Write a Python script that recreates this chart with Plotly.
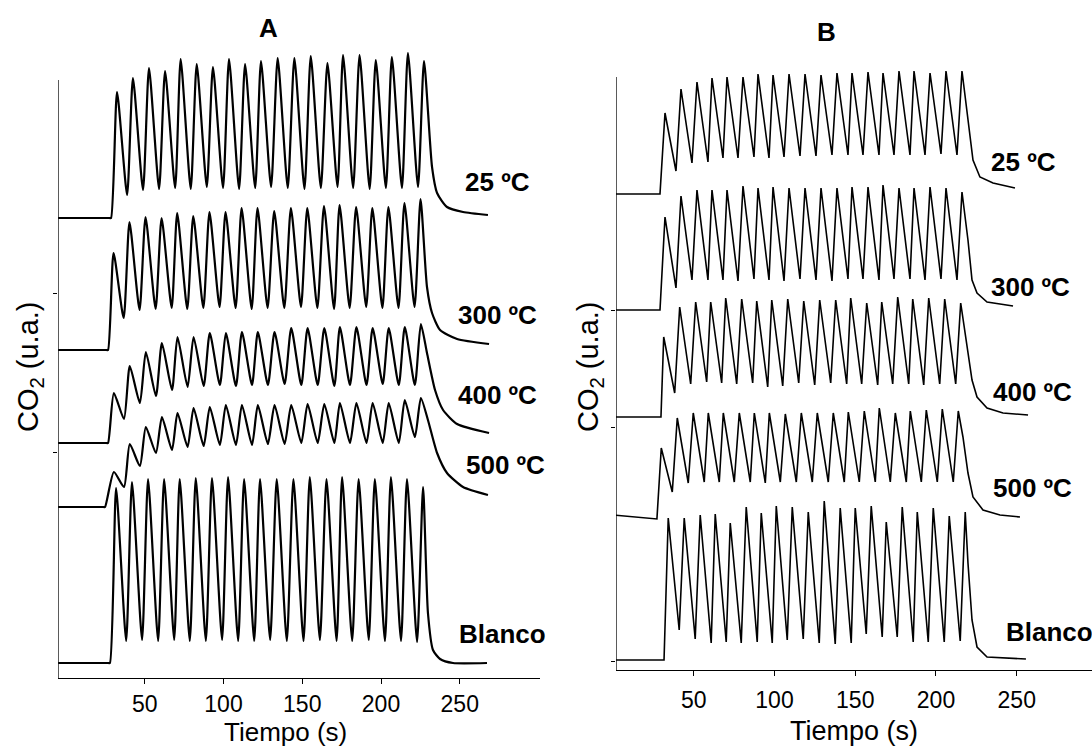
import plotly.graph_objects as go

# ---------------------------------------------------------------------------
# Pulse timing (s): maxima and minima of the CO2 pulse train
# ---------------------------------------------------------------------------
PEAK_T_A = [32.4, 42.5, 52.7, 62.9, 72.8, 83.0, 93.3, 103.5, 113.7, 123.8,
            134.4, 145.0, 155.4, 166.0, 175.9, 186.4, 196.7, 206.9, 217.1, 227.3]
TROUGH_T_A = [38.8, 48.9, 59.1, 69.3, 79.2, 89.4, 99.7, 109.9, 120.1, 130.2,
              140.8, 151.4, 161.8, 172.4, 182.3, 192.8, 203.1, 213.3, 223.5]

PEAK_T_B = [32.2, 42.1, 52.0, 61.3, 70.6, 80.5, 89.8, 99.1, 109.0, 118.9,
            128.8, 138.7, 148.0, 157.9, 167.2, 177.1, 186.4, 196.3, 206.2, 216.1]
TROUGH_T_B = [39.0, 48.9, 58.8, 68.1, 77.4, 87.3, 96.6, 105.9, 115.8, 125.7,
              135.6, 145.5, 154.8, 164.7, 174.0, 183.9, 193.2, 203.1, 213.0]

LABELS = ["25 ºC", "300 ºC", "400 ºC", "500 ºC", "Blanco"]
X_TICKS = [50, 100, 150, 200, 250]

# ---------------------------------------------------------------------------
# Panel A signals (u.a., curves stacked with an offset)
# ---------------------------------------------------------------------------
A25_BASE_T = [-5.0, 27.6, 28.6]
A25_BASE_V = [4.60, 4.60, 4.60]
A25_LAG = 0.0
A25_PEAKS = [5.86, 6.00, 6.10, 6.07, 6.19, 6.14, 6.11, 6.19, 6.14, 6.17,
             6.20, 6.20, 6.22, 6.15, 6.23, 6.23, 6.18, 6.21, 6.25, 6.17]
A25_TROUGHS = [4.83, 4.88, 4.89, 4.90, 4.89, 4.91, 4.90, 4.89, 4.90, 4.91,
               4.90, 4.89, 4.90, 4.91, 4.90, 4.89, 4.90, 4.90, 4.91]
A25_TAIL_T = [232.4, 235.6, 241.9, 252.1, 267.9]
A25_TAIL_V = [5.11, 4.85, 4.71, 4.66, 4.63]

A300_BASE_T = [-5.0, 25.7, 26.7]
A300_BASE_V = [3.28, 3.28, 3.28]
A300_LAG = -2.2
A300_PEAKS = [4.25, 4.56, 4.61, 4.60, 4.65, 4.62, 4.66, 4.66, 4.70, 4.70,
              4.67, 4.70, 4.70, 4.72, 4.73, 4.71, 4.70, 4.71, 4.75, 4.79]
A300_TROUGHS = [3.60, 3.68, 3.69, 3.70, 3.69, 3.70, 3.71, 3.70, 3.69, 3.70,
                3.70, 3.71, 3.70, 3.69, 3.70, 3.71, 3.70, 3.70, 3.71]
A300_TAIL_T = [229.2, 232.4, 237.5, 248.3, 268.6]
A300_TAIL_V = [3.91, 3.65, 3.48, 3.39, 3.34]

A400_BASE_T = [-5.0, 25.7, 26.7]
A400_BASE_V = [2.35, 2.35, 2.35]
A400_LAG = -2.0
A400_PEAKS = [2.85, 3.12, 3.26, 3.35, 3.41, 3.41, 3.45, 3.45, 3.46, 3.46,
              3.46, 3.50, 3.50, 3.50, 3.51, 3.51, 3.50, 3.50, 3.51, 3.54]
A400_TROUGHS = [2.59, 2.75, 2.82, 2.88, 2.91, 2.92, 2.93, 2.92, 2.93, 2.93,
                2.94, 2.93, 2.93, 2.92, 2.93, 2.93, 2.94, 2.93, 2.93]
A400_TAIL_T = [229.2, 234.3, 239.4, 248.3, 268.6]
A400_TAIL_V = [3.25, 2.88, 2.68, 2.54, 2.45]

A500_BASE_T = [-5.0, 23.8, 24.8]
A500_BASE_V = [1.71, 1.71, 1.71]
A500_LAG = -2.0
A500_PEAKS = [2.06, 2.34, 2.51, 2.61, 2.65, 2.70, 2.71, 2.73, 2.73, 2.73,
              2.73, 2.73, 2.74, 2.74, 2.75, 2.75, 2.75, 2.75, 2.78, 2.80]
A500_TROUGHS = [1.91, 2.12, 2.25, 2.28, 2.31, 2.32, 2.33, 2.33, 2.33, 2.34,
                2.34, 2.35, 2.35, 2.35, 2.35, 2.35, 2.35, 2.35, 2.41]
A500_TAIL_T = [229.8, 235.6, 241.9, 252.1, 267.9]
A500_TAIL_V = [2.58, 2.25, 2.05, 1.91, 1.83]

ABL_BASE_T = [-5.0, 26.9, 27.9]
ABL_BASE_V = [0.15, 0.15, 0.15]
ABL_LAG = -0.6
ABL_PEAKS = [1.90, 1.96, 1.99, 1.99, 1.99, 2.00, 2.00, 2.01, 1.99, 1.99,
             1.99, 1.99, 2.01, 1.99, 2.01, 1.99, 1.99, 2.01, 1.99, 1.91]
ABL_TROUGHS = [0.37, 0.38, 0.37, 0.38, 0.37, 0.37, 0.38, 0.37, 0.37, 0.38,
               0.37, 0.37, 0.38, 0.37, 0.37, 0.38, 0.37, 0.37, 0.36]
ABL_TAIL_T = [229.8, 233.0, 237.5, 245.7, 267.3]
ABL_TAIL_V = [0.65, 0.28, 0.19, 0.15, 0.15]

# ---------------------------------------------------------------------------
# Panel B signals
# ---------------------------------------------------------------------------
B25_BASE_T = [0.0, 29.1]
B25_BASE_V = [4.76, 4.76]
B25_LAG = 0.0
B25_PEAKS = [5.57, 5.81, 5.88, 5.92, 5.93, 5.93, 5.96, 5.95, 5.96, 5.96,
             5.95, 5.97, 5.97, 5.98, 5.97, 5.99, 5.99, 5.97, 5.99, 5.99]
B25_TROUGHS = [4.99, 5.07, 5.08, 5.12, 5.12, 5.13, 5.12, 5.13, 5.14, 5.14,
               5.15, 5.15, 5.15, 5.15, 5.15, 5.15, 5.15, 5.16, 5.15]
B25_TAIL_T = [219.8, 222.9, 227.2, 235.3, 248.9]
B25_TAIL_V = [5.53, 5.10, 4.93, 4.87, 4.82]

B300_BASE_T = [0.0, 29.1]
B300_BASE_V = [3.60, 3.60]
B300_LAG = 0.0
B300_PEAKS = [4.53, 4.74, 4.80, 4.80, 4.80, 4.84, 4.82, 4.83, 4.82, 4.82,
              4.82, 4.82, 4.83, 4.83, 4.85, 4.82, 4.82, 4.83, 4.82, 4.78]
B300_TROUGHS = [3.82, 3.90, 3.90, 3.90, 3.89, 3.91, 3.90, 3.89, 3.91, 3.90,
                3.89, 3.91, 3.91, 3.90, 3.91, 3.91, 3.90, 3.91, 3.90]
B300_TAIL_T = [219.8, 222.3, 225.4, 231.6, 247.7]
B300_TAIL_V = [4.30, 3.90, 3.77, 3.68, 3.64]

B400_BASE_T = [0.0, 29.7]
B400_BASE_V = [2.53, 2.53]
B400_LAG = -0.8
B400_PEAKS = [3.33, 3.63, 3.68, 3.68, 3.72, 3.71, 3.69, 3.70, 3.71, 3.69,
              3.70, 3.70, 3.72, 3.67, 3.68, 3.73, 3.71, 3.72, 3.71, 3.67]
B400_TROUGHS = [2.77, 2.86, 2.88, 2.87, 2.86, 2.87, 2.83, 2.84, 2.87, 2.85,
                2.87, 2.86, 2.86, 2.85, 2.86, 2.86, 2.85, 2.86, 2.86]
B400_TAIL_T = [219.2, 222.3, 225.4, 231.6, 241.5, 257.0]
B400_TAIL_V = [3.23, 2.90, 2.73, 2.62, 2.57, 2.55]

B500_BASE_T = [0.0, 27.2]
B500_BASE_V = [1.55, 1.51]
B500_LAG = -2.3
B500_PEAKS = [2.22, 2.52, 2.57, 2.57, 2.57, 2.57, 2.57, 2.57, 2.56, 2.57,
              2.57, 2.57, 2.58, 2.59, 2.62, 2.57, 2.59, 2.60, 2.61, 2.59]
B500_TROUGHS = [1.78, 1.87, 1.88, 1.88, 1.88, 1.88, 1.87, 1.88, 1.88, 1.88,
                1.88, 1.88, 1.88, 1.88, 1.88, 1.88, 1.88, 1.88, 1.88]
B500_TAIL_T = [216.7, 219.8, 222.9, 229.1, 239.6, 252.0]
B500_TAIL_V = [2.33, 1.97, 1.73, 1.60, 1.55, 1.53]

BBL_BASE_T = [0.0, 31.6]
BBL_BASE_V = [0.10, 0.10]
BBL_LAG = 2.0
BBL_PEAKS = [1.52, 1.52, 1.55, 1.56, 1.47, 1.63, 1.57, 1.64, 1.63, 1.58,
             1.69, 1.62, 1.62, 1.64, 1.48, 1.63, 1.58, 1.62, 1.54, 1.58]
BBL_TROUGHS = [0.40, 0.31, 0.27, 0.28, 0.27, 0.28, 0.27, 0.30, 0.31, 0.27,
               0.26, 0.27, 0.36, 0.33, 0.33, 0.28, 0.28, 0.28, 0.29]
BBL_TAIL_T = [219.8, 222.3, 225.4, 231.6, 255.7]
BBL_TAIL_V = [1.07, 0.50, 0.23, 0.13, 0.11]

# ---------------------------------------------------------------------------
# Figure geometry (pixels of a 1092 x 749 canvas)
# ---------------------------------------------------------------------------
W, H = 1092, 749
FONT = "Liberation Sans, Arial, sans-serif"


def px(x):
    return x / W


def py(y):
    return 1 - y / H


def pulse_train(base_t, base_v, lag, peak_t, trough_t, peaks, troughs, tail_t, tail_v):
    """Chain baseline, alternating maxima/minima and the final decay."""
    xs, ys = list(base_t), list(base_v)
    for i, pv in enumerate(peaks):
        xs.append(peak_t[i] + lag)
        ys.append(pv)
        if i < len(troughs):
            xs.append(trough_t[i] + lag)
            ys.append(troughs[i])
    xs += list(tail_t)
    ys += list(tail_v)
    return xs, ys


fig = go.Figure()

panel_a = [
    (A25_BASE_T, A25_BASE_V, A25_LAG, A25_PEAKS, A25_TROUGHS, A25_TAIL_T, A25_TAIL_V),
    (A300_BASE_T, A300_BASE_V, A300_LAG, A300_PEAKS, A300_TROUGHS, A300_TAIL_T, A300_TAIL_V),
    (A400_BASE_T, A400_BASE_V, A400_LAG, A400_PEAKS, A400_TROUGHS, A400_TAIL_T, A400_TAIL_V),
    (A500_BASE_T, A500_BASE_V, A500_LAG, A500_PEAKS, A500_TROUGHS, A500_TAIL_T, A500_TAIL_V),
    (ABL_BASE_T, ABL_BASE_V, ABL_LAG, ABL_PEAKS, ABL_TROUGHS, ABL_TAIL_T, ABL_TAIL_V),
]
panel_b = [
    (B25_BASE_T, B25_BASE_V, B25_LAG, B25_PEAKS, B25_TROUGHS, B25_TAIL_T, B25_TAIL_V),
    (B300_BASE_T, B300_BASE_V, B300_LAG, B300_PEAKS, B300_TROUGHS, B300_TAIL_T, B300_TAIL_V),
    (B400_BASE_T, B400_BASE_V, B400_LAG, B400_PEAKS, B400_TROUGHS, B400_TAIL_T, B400_TAIL_V),
    (B500_BASE_T, B500_BASE_V, B500_LAG, B500_PEAKS, B500_TROUGHS, B500_TAIL_T, B500_TAIL_V),
    (BBL_BASE_T, BBL_BASE_V, BBL_LAG, BBL_PEAKS, BBL_TROUGHS, BBL_TAIL_T, BBL_TAIL_V),
]

for name, (bt, bv, lag, pk, tr, tt, tv) in zip(LABELS, panel_a):
    xs, ys = pulse_train(bt, bv, lag, PEAK_T_A, TROUGH_T_A, pk, tr, tt, tv)
    fig.add_trace(go.Scatter(x=xs, y=ys, mode="lines", name=name, showlegend=False,
                             line=dict(color="black", width=2.2, shape="spline", smoothing=0.6),
                             xaxis="x", yaxis="y"))

for name, (bt, bv, lag, pk, tr, tt, tv) in zip(LABELS, panel_b):
    xs, ys = pulse_train(bt, bv, lag, PEAK_T_B, TROUGH_T_B, pk, tr, tt, tv)
    fig.add_trace(go.Scatter(x=xs, y=ys, mode="lines", name=name, showlegend=False,
                             line=dict(color="black", width=1.6),
                             xaxis="x2", yaxis="y2"))

# Axis placement: panel A spans x 58..540 px, panel B 616..1092 px
XA_RANGE = [-5.08, 300.95]
XB_RANGE = [1.86, 296.6]
YA_RANGE = [0, 6.38]     # axis baseline at 678 px, 100 px per unit
YB_RANGE = [0, 6.30]     # axis baseline at 670 px, 100 px per unit
YA_LINE_TOP = 5.98
YB_LINE_TOP = 5.93

tick_font = dict(family=FONT, size=23, color="black")
xcommon = dict(showline=True, linecolor="black", linewidth=1.3, ticks="outside",
               ticklen=5, tickwidth=1.2, tickcolor="black", showgrid=False,
               zeroline=False, tickvals=X_TICKS, tickfont=tick_font)
ycommon = dict(showline=False, showgrid=False, zeroline=False, ticks="outside",
               ticklen=4, tickwidth=1.2, tickcolor="black", showticklabels=False)

fig.update_layout(
    width=W, height=H,
    margin=dict(l=0, r=0, t=0, b=0),
    paper_bgcolor="white", plot_bgcolor="white",
    xaxis=dict(domain=[px(58), px(540)], range=XA_RANGE, anchor="y", **xcommon),
    yaxis=dict(domain=[py(678), py(40)], range=YA_RANGE, anchor="x",
               tickvals=[3.85, 2.26], **ycommon),
    xaxis2=dict(domain=[px(616), 1.0], range=XB_RANGE, anchor="y2",
                ticklabelstandoff=4, **xcommon),
    yaxis2=dict(domain=[py(670), py(40)], range=YB_RANGE, anchor="x2",
                tickvals=[3.60, 2.43, 0.09], **ycommon),
)

# Vertical axis lines (they stop below the tallest pulses)
fig.add_shape(type="line", xref="x", yref="y", x0=XA_RANGE[0], x1=XA_RANGE[0],
              y0=0, y1=YA_LINE_TOP, line=dict(color="black", width=1.3))
fig.add_shape(type="line", xref="x2", yref="y2", x0=XB_RANGE[0], x1=XB_RANGE[0],
              y0=0, y1=YB_LINE_TOP, line=dict(color="black", width=1.3))

ann = []
# Panel letters
ann.append(dict(text="<b>A</b>", x=px(268), y=py(28), font=dict(size=26)))
ann.append(dict(text="<b>B</b>", x=px(826), y=py(32), font=dict(size=26)))
# Axis titles
ann.append(dict(text="Tiempo (s)", x=px(285), y=0.0, yanchor="bottom", font=dict(size=26)))
ann.append(dict(text="Tiempo (s)", x=px(854), y=py(731), font=dict(size=27)))
ann.append(dict(text="CO<sub>2</sub> (u.a.)", x=px(30), y=py(367), textangle=-90,
                font=dict(size=29)))
ann.append(dict(text="CO<sub>2</sub> (u.a.)", x=px(590), y=py(367), textangle=-90,
                font=dict(size=29)))

# Curve labels
pos_a = [(497, 182), (497, 315), (497, 395), (505, 465), (502, 634)]
pos_b = [(1023, 162), (1030, 287), (1032, 392), (1032, 488), (1049, 632)]
for lab, (x, y) in zip(LABELS, pos_a):
    ann.append(dict(text=f"<b>{lab}</b>", x=px(x), y=py(y), font=dict(size=26)))
for lab, (x, y) in zip(LABELS, pos_b):
    ann.append(dict(text=f"<b>{lab}</b>", x=px(x), y=py(y), font=dict(size=26)))

for a in ann:
    a.setdefault("xref", "paper")
    a.setdefault("yref", "paper")
    a.setdefault("showarrow", False)
    a.setdefault("xanchor", "center")
    a.setdefault("yanchor", "middle")
    a["font"] = dict(family=FONT, color="black", **a["font"])
fig.update_layout(annotations=ann)

fig.write_html("out.html")
